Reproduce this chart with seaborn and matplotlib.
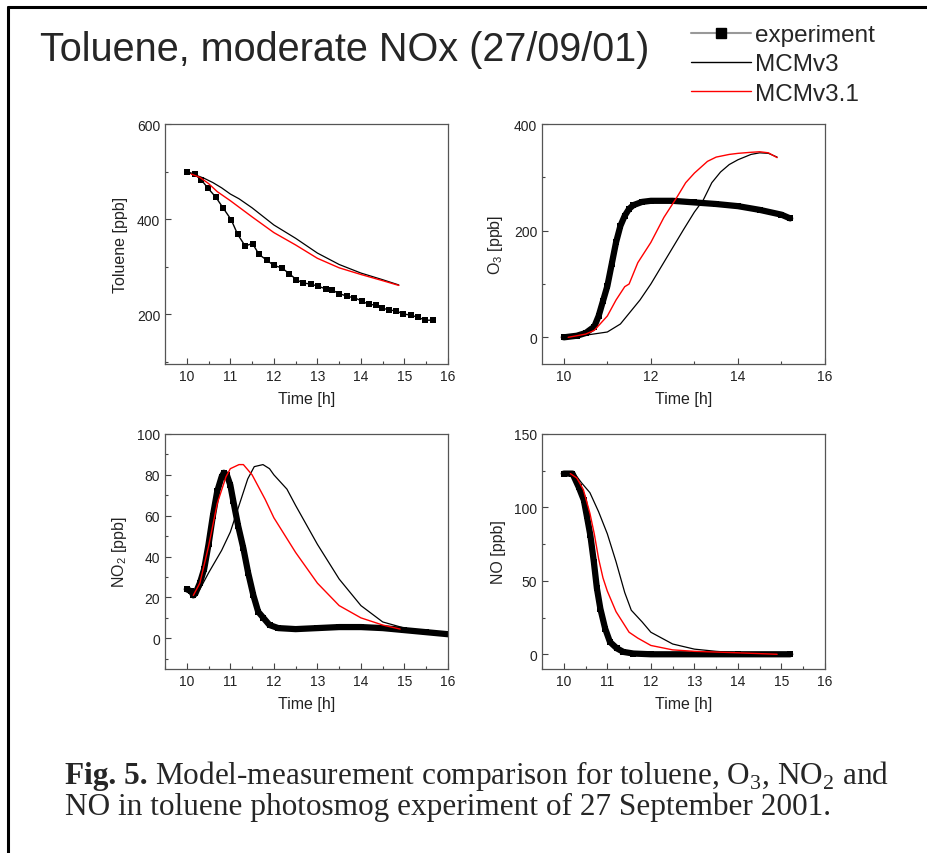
import numpy as np
import pandas as pd
import matplotlib
matplotlib.use('Agg')
import matplotlib.pyplot as plt
from matplotlib.lines import Line2D
from matplotlib.ticker import MultipleLocator
import seaborn as sns

# --- toluene ---
tol_exp_t = [10.0, 10.18, 10.33, 10.48, 10.67, 10.84, 11.02, 11.17, 11.34, 11.51, 11.66, 11.84,
             12.0, 12.18, 12.35, 12.52, 12.67, 12.85, 13.02, 13.19, 13.34, 13.5, 13.69, 13.85,
             14.03, 14.18, 14.34, 14.49, 14.64, 14.81, 14.96, 15.14, 15.31, 15.48, 15.65]
tol_exp = [500, 494, 483, 466, 446, 423, 399, 368, 344, 349, 326, 314,
           303, 298, 286, 273, 266, 264, 259, 254, 251, 244, 238, 235,
           228, 221, 220, 214, 209, 208, 201, 199, 194, 188, 188]
tol_v3_t = [10.0, 10.2, 10.4, 10.6, 10.8, 11.0, 11.2, 11.5, 12.0, 12.5, 13.0, 13.5, 14.0, 14.5, 14.87]
tol_v3 = [500, 493, 486, 477, 466, 453, 443, 424, 388, 360, 329, 305, 287, 273, 262]
tol_v31_t = [10.1, 10.3, 10.5, 10.7, 11.0, 11.5, 12.0, 12.5, 13.0, 13.5, 14.0, 14.5, 14.87]
tol_v31 = [495, 488, 475, 458, 439, 405, 372, 346, 318, 298, 284, 271, 261]

# --- O3 ---
o3_exp_t = [10.0, 10.3, 10.5, 10.7, 10.8, 10.9, 11.0, 11.1, 11.2, 11.3, 11.4, 11.5, 11.6, 11.8,
            12.0, 12.5, 13.0, 13.5, 14.0, 14.5, 15.0, 15.2]
o3_exp = [0, 3, 8, 20, 40, 68, 96, 137, 178, 209, 228, 241, 248, 254,
          256, 256, 253, 250, 246, 239, 230, 223]
o3_v3_t = [10.0, 10.5, 11.0, 11.3, 11.5, 11.75, 12.0, 12.5, 12.75, 13.0, 13.2, 13.4, 13.6, 13.8,
           14.0, 14.3, 14.5, 14.7, 14.9]
o3_v3 = [0, 4, 10, 25, 45, 70, 100, 168, 202, 235, 257, 290, 310, 324,
         333, 343, 346, 345, 338]
o3_v31_t = [10.1, 10.5, 10.7, 11.0, 11.2, 11.4, 11.5, 11.7, 12.0, 12.3, 12.6, 12.8, 13.0, 13.3,
            13.5, 13.8, 14.0, 14.3, 14.5, 14.7, 14.9]
o3_v31 = [0, 6, 13, 40, 70, 95, 100, 140, 178, 225, 263, 290, 308, 330,
          338, 343, 345, 347, 348, 346, 337]

# --- NO2 ---
no2_exp_t = [10.0, 10.1, 10.15, 10.2, 10.3, 10.4, 10.5, 10.6, 10.7, 10.8, 10.85, 10.92, 11.0,
             11.07, 11.18, 11.3, 11.41, 11.53, 11.64, 11.76, 11.9, 12.1, 12.5, 13.0, 13.5,
             14.0, 14.5, 15.0, 15.5, 16.0]
no2_exp = [24, 23, 21, 22, 27, 34, 46, 60, 72, 79, 81, 80, 75,
           67, 55, 44, 32, 21, 13, 10, 6.5, 5, 4.5, 5, 5.5,
           5.5, 5, 4, 3, 2]
no2_v3_t = [10.15, 10.3, 10.5, 10.8, 11.0, 11.2, 11.4, 11.55, 11.75, 11.9, 12.0, 12.3, 12.5,
            13.0, 13.5, 14.0, 14.5, 15.0]
no2_v3 = [21, 24, 32, 43, 52, 65, 78, 84, 85, 83, 80, 73, 65,
          46, 29, 16, 8, 5]
no2_v31_t = [10.15, 10.3, 10.5, 10.7, 10.9, 11.0, 11.2, 11.3, 11.5, 11.8, 12.0, 12.5, 13.0,
             13.5, 14.0, 14.5, 14.9]
no2_v31 = [21, 27, 45, 66, 79, 83, 85, 85, 80, 68, 59, 42, 27,
           16, 10, 6.5, 4.5]

# --- NO ---
no_exp_t = [10.0, 10.2, 10.34, 10.46, 10.53, 10.61, 10.69, 10.76, 10.84, 10.95, 11.06, 11.22,
            11.37, 11.6, 12.0, 13.0, 14.0, 15.2]
no_exp = [123, 123, 114, 105, 94, 81, 63, 45, 31, 17.5, 8.4, 4,
          1.6, 0.5, 0, 0, 0, 0]
no_v3_t = [10.0, 10.25, 10.4, 10.6, 10.8, 11.0, 11.2, 11.4, 11.55, 11.8, 12.0, 12.5, 13.0,
           13.5, 14.0, 14.9]
no_v3 = [123, 123, 117, 110, 97, 82, 63, 42, 30, 22, 15, 7, 3.5,
         2, 1, 0]
no_v31_t = [10.15, 10.3, 10.45, 10.6, 10.7, 10.8, 10.9, 11.0, 11.2, 11.5, 11.7, 12.0, 12.5,
            13.0, 14.0, 14.9]
no_v31 = [123, 120, 112, 96, 82, 65, 52, 43, 29, 15, 11, 6, 3,
          2, 1, 0]

sns.set_style('ticks')
plt.rcParams['font.family'] = ['Liberation Sans', 'DejaVu Sans']
plt.rcParams['mathtext.fontset'] = 'custom'
plt.rcParams['mathtext.rm'] = 'Liberation Sans'

fig = plt.figure(figsize=(9.27, 8.54), dpi=100)

panels = [
    # position, data, ylabel, ylim, y major/minor step, x major/minor step, dense experiment
    ([0.178, 0.5726, 0.3053, 0.281], (tol_exp_t, tol_exp, tol_v3_t, tol_v3, tol_v31_t, tol_v31),
     'Toluene [ppb]', (96, 600), 200, 100, 1, 0.5, False),
    ([0.5847, 0.5726, 0.3053, 0.281], (o3_exp_t, o3_exp, o3_v3_t, o3_v3, o3_v31_t, o3_v31),
     'O$_\\mathregular{3}$ [ppb]', (-50, 400), 200, 100, 2, 1, True),
    ([0.178, 0.2155, 0.3053, 0.2752], (no2_exp_t, no2_exp, no2_v3_t, no2_v3, no2_v31_t, no2_v31),
     'NO$_\\mathregular{2}$ [ppb]', (-15, 100), 20, 10, 1, 0.5, True),
    ([0.5847, 0.2155, 0.3053, 0.2752], (no_exp_t, no_exp, no_v3_t, no_v3, no_v31_t, no_v31),
     'NO [ppb]', (-10, 150), 50, 25, 1, 0.5, True),
]

for pos, d, ylab, ylim, ymaj, ymin, xmaj, xmin, dense in panels:
    ax = fig.add_axes(pos)
    et, ev, t3, v3, t31, v31 = d
    if dense:
        sns.lineplot(x=et, y=ev, ax=ax, color='black', lw=4.5, sort=False,
                     marker='s', markersize=5, markeredgewidth=0)
    else:
        sns.lineplot(x=et, y=ev, ax=ax, color='black', lw=1.0, sort=False,
                     marker='s', markersize=4.7, markeredgewidth=0)
    sns.lineplot(x=t3, y=v3, ax=ax, color='black', lw=0.9, sort=False)
    sns.lineplot(x=t31, y=v31, ax=ax, color='red', lw=1.0, sort=False)
    ax.set_xlim(9.5, 16)
    ax.set_ylim(*ylim)
    ax.xaxis.set_major_locator(MultipleLocator(xmaj))
    ax.xaxis.set_minor_locator(MultipleLocator(xmin))
    ax.yaxis.set_major_locator(MultipleLocator(ymaj))
    ax.yaxis.set_minor_locator(MultipleLocator(ymin))
    ax.tick_params(which='both', direction='in', colors='#444444', labelcolor='#222222',
                   labelsize=10, top=False, right=False)
    ax.tick_params(which='major', length=4, width=0.8)
    ax.tick_params(which='minor', length=2.5, width=0.8)
    for s in ax.spines.values():
        s.set_color('#555555')
        s.set_linewidth(0.9)
    ax.set_xlabel('Time [h]', fontsize=11.5, color='#222222', labelpad=6)
    ax.set_ylabel(ylab, fontsize=11.5, color='#222222', labelpad=6)

# title
fig.text(0.043, 0.9415, 'Toluene, moderate NOx (27/09/01)', fontsize=28.5, va='center', ha='left')

# legend
handles = [
    Line2D([], [], color='#999999', lw=1.5, marker='s', markersize=7,
           markerfacecolor='black', markeredgecolor='black'),
    Line2D([], [], color='black', lw=1.0),
    Line2D([], [], color='red', lw=1.0),
]
fig.legend(handles, ['experiment', 'MCMv3', 'MCMv3.1'], loc='upper left',
           bbox_to_anchor=(0.735, 0.982), frameon=False, fontsize=17.5, numpoints=1,
           handlelength=2.45, handletextpad=0.2, labelspacing=0.3, borderaxespad=0)

# frame lines
fig.add_artist(Line2D([0.009, 0.009], [0.0, 0.991], color='black', lw=2.2,
                      transform=fig.transFigure))
fig.add_artist(Line2D([0.009, 1.0], [0.991, 0.991], color='black', lw=2.2,
                      transform=fig.transFigure))

# caption
serif = ['Liberation Serif', 'DejaVu Serif']
fig.canvas.draw()
r = fig.canvas.get_renderer()
t1 = fig.text(0.070, 0.082, 'Fig. 5.', fontsize=22.5, fontweight='bold', family=serif,
              va='baseline', ha='left')
bb = t1.get_window_extent(renderer=r)
x2 = (bb.x1 + 7) / fig.bbox.width
fig.text(x2, 0.082, 'Model-measurement comparison for toluene, O$_\\mathregular{3}$, '
         'NO$_\\mathregular{2}$ and', fontsize=22.5, family=serif, va='baseline', ha='left')
fig.text(0.070, 0.046, 'NO in toluene photosmog experiment of 27 September 2001.',
         fontsize=22.5, family=serif, va='baseline', ha='left')

fig.savefig('out.png', dpi=100)
